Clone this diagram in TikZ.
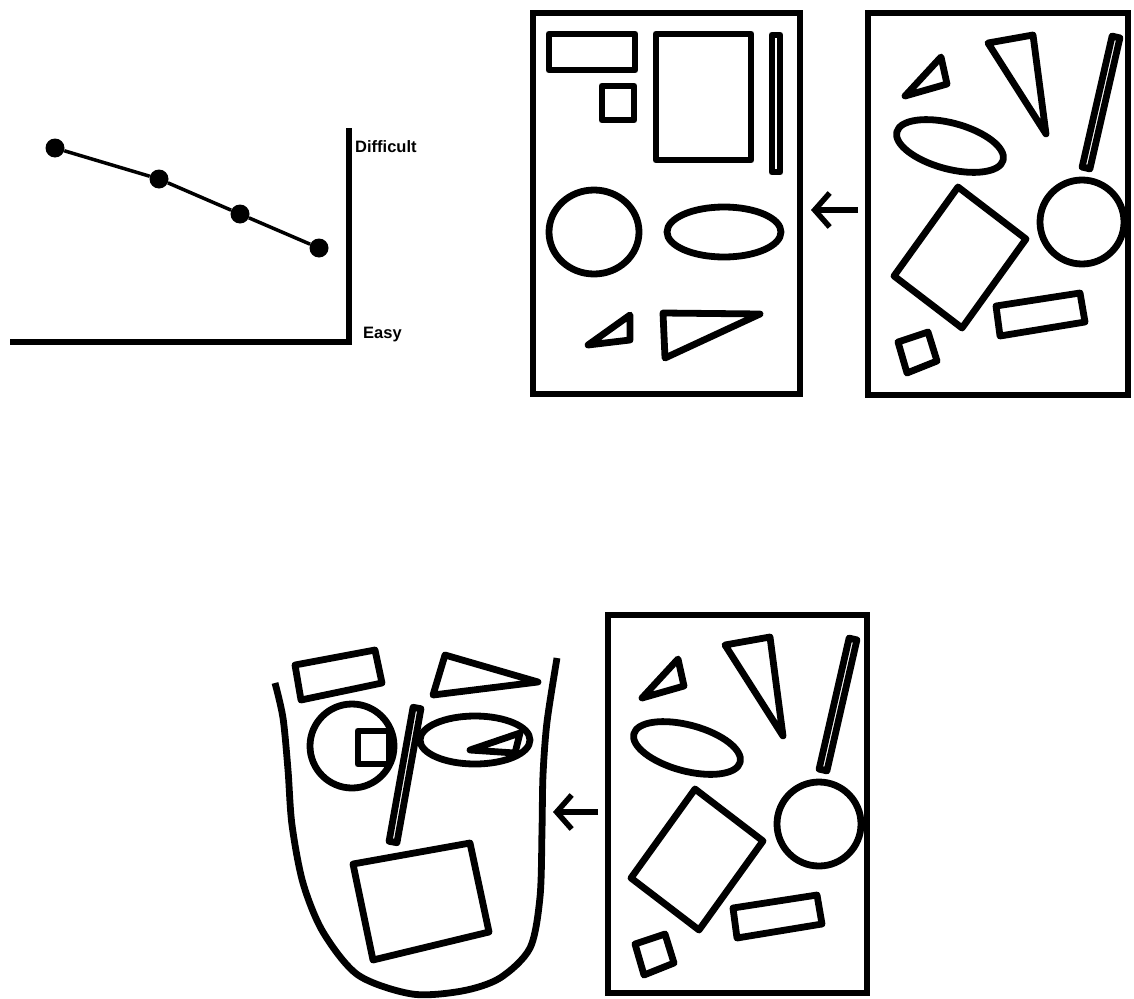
\documentclass[tikz,border=0pt]{standalone}
\usepackage{fontspec}
\setmainfont{Liberation Sans}
\usepackage{tikz}
\usetikzlibrary{positioning,calc,arrows.meta}

\tikzset{
  outline/.style={line width=6.8pt,line join=round},
  boxframe/.style={line width=6.8pt},
  dot/.style={circle,fill=black,inner sep=0pt,minimum size=19pt},
  axislabel/.style={inner sep=0pt,anchor=base west,font=\bfseries\fontsize{16.5}{16.5}\selectfont},
  arrowline/.style={line width=5.5pt,-{Straight Barb[length=15pt,width=34pt]}}
}

\newcommand{\thinbar}[2]{\draw[outline] ($#1!4pt!90:#2$) -- ($#2!4pt!-90:#1$) -- ($#2!4pt!90:#1$) -- ($#1!4pt!-90:#2$) -- cycle;}

\newcommand{\messyshapes}{
\draw[outline] (905,96) -- (941,57) -- (947,84) -- cycle;
\draw[outline] (988,43) -- (1033,35) -- (1046,134) -- cycle;
\thinbar{(1116,37)}{(1086,168)}
\draw[outline,rotate around={-15:(950,146)}] (950,146) ellipse [x radius=55,y radius=23];
\draw[outline] (958,187) -- (1026,239) -- (962,328) -- (894,276) -- cycle;
\draw[outline] (1082,222) circle [radius=42];
\draw[outline] (996,306) -- (1080,293) -- (1085,322) -- (1000,336) -- cycle;
\draw[outline] (898,342) -- (928,332) -- (937,361) -- (907,373) -- cycle;
}

\begin{document}
\begin{tikzpicture}[x=1pt,y=-1pt]
\useasboundingbox (0,0) rectangle (1134,998);

% graph
\draw[line width=5.5pt] (10,342) -- (349,342) -- (349,128);
\node(P1)   [dot] at (55,148)  {};
\node(P2)   [dot] at (159,179) {};
\node(P3)   [dot] at (240,214) {};
\node(P4)   [dot] at (319,248) {};
\draw[line width=3.5pt] (P1) -- (P2) -- (P3) -- (P4);
\node(DIFF) [axislabel] at (355,152) {Difficult};
\node(EASY) [axislabel] at (363,338) {Easy};

% sorted frame
\draw[boxframe] (533,13) rectangle (800,394);
\draw[outline] (549,34) rectangle (635,70);
\draw[outline] (602,86) rectangle (634,120);
\draw[outline] (656,34) rectangle (751,160);
\thinbar{(776,35)}{(776,172)}
\draw[outline] (594,232) ellipse [x radius=45,y radius=42];
\draw[outline] (724,232) ellipse [x radius=57,y radius=25];
\draw[outline] (588,345) -- (630,315) -- (630,340) -- cycle;
\draw[outline] (663,313) -- (760,314) -- (665,358) -- cycle;

% messy frames
\draw[boxframe] (868,13) rectangle (1128,395);
\messyshapes
\draw[boxframe] (608,615) rectangle (867,993);
\begin{scope}[shift={(-263,602)}]
\messyshapes
\end{scope}

\coordinate(ARRTOPA) at (858,210);
\coordinate(ARRTOPB) at (811,210);
\draw[arrowline] (ARRTOPA) -- (ARRTOPB);
\coordinate(ARRBOTA) at (598,812);
\coordinate(ARRBOTB) at (553,812);
\draw[arrowline] (ARRBOTA) -- (ARRBOTB);

% face
\draw[outline] plot[smooth] coordinates {(275,683) (283,718) (288,770) (292,825) (303,883) (323,932) (358,975) (412,994) (462,991) (500,978) (530,948) (540,897) (542,830) (543,775) (547,722) (557,658)};
\draw[outline] (295,665) -- (375,650) -- (382,683) -- (301,700) -- cycle;
\draw[outline] (445,655) -- (538,682) -- (433,695) -- cycle;
\draw[outline] (352,746) circle [radius=42];
\draw[outline] (358,731) rectangle (389,764);
\thinbar{(417,708)}{(393,842)}
\draw[outline] (475,740) ellipse [x radius=55,y radius=24];
\draw[outline] (470,750) -- (520,733) -- (515,753) -- cycle;
\draw[outline] (353,864) -- (470,843) -- (489,932) -- (373,960) -- cycle;
\end{tikzpicture}
\end{document}
